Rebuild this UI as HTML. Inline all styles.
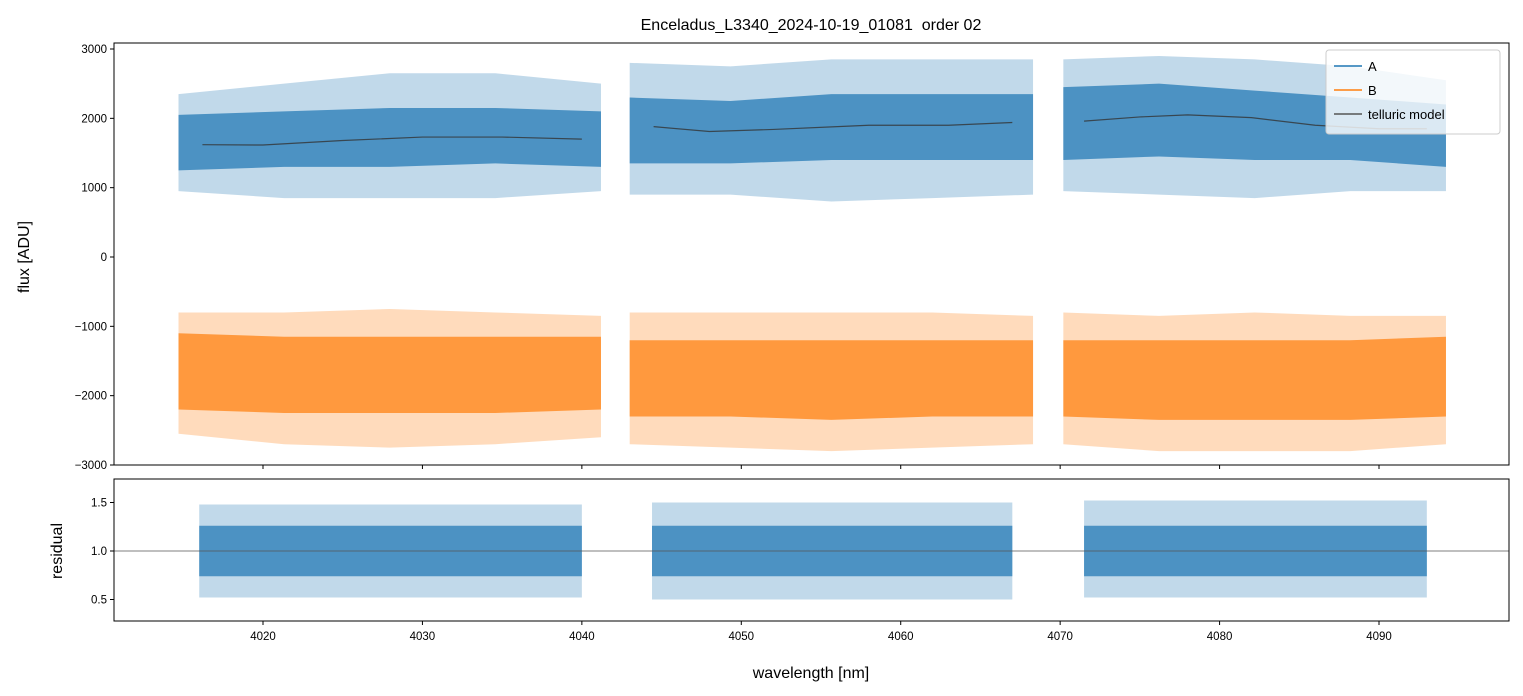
<!DOCTYPE html>
<html><head><meta charset="utf-8"><style>
html,body{margin:0;padding:0;background:#fff;}
svg{display:block;font-family:"Liberation Sans","DejaVu Sans",sans-serif;}
</style></head><body>
<svg id="chart" width="1523" height="696" viewBox="0 0 1523 696" xmlns="http://www.w3.org/2000/svg"></svg>
<script>
// ---- data ----
const segWaveStartA = [4014.7, 4043.0, 4070.2];
const segWaveEndA   = [4041.2, 4068.3, 4094.2];
const segWaveStartR = [4016.0, 4044.4, 4071.5];
const segWaveEndR   = [4040.0, 4067.0, 4093.0];
const envFrac = [0, 0.25, 0.5, 0.75, 1];
const aInnerLo = [[1250,1300,1300,1350,1300],[1350,1350,1400,1400,1400],[1400,1450,1400,1400,1300]];
const aInnerHi = [[2050,2100,2150,2150,2100],[2300,2250,2350,2350,2350],[2450,2500,2400,2300,2200]];
const aOuterLo = [[950,850,850,850,950],[900,900,800,850,900],[950,900,850,950,950]];
const aOuterHi = [[2350,2500,2650,2650,2500],[2800,2750,2850,2850,2850],[2850,2900,2850,2750,2550]];
const bInnerLo = [[-2200,-2250,-2250,-2250,-2200],[-2300,-2300,-2350,-2300,-2300],[-2300,-2350,-2350,-2350,-2300]];
const bInnerHi = [[-1100,-1150,-1150,-1150,-1150],[-1200,-1200,-1200,-1200,-1200],[-1200,-1200,-1200,-1200,-1150]];
const bOuterLo = [[-2550,-2700,-2750,-2700,-2600],[-2700,-2750,-2800,-2750,-2700],[-2700,-2800,-2800,-2800,-2700]];
const bOuterHi = [[-800,-800,-750,-800,-850],[-800,-800,-800,-800,-850],[-800,-850,-800,-850,-850]];
const rInnerLo = [0.74,0.74,0.74];
const rInnerHi = [1.26,1.26,1.26];
const rOuterLo = [0.52,0.5,0.52];
const rOuterHi = [1.48,1.5,1.52];
const tellW = [[4016.2,4020,4025,4030,4035,4040],[4044.5,4048,4052,4058,4063,4067],[4071.5,4075,4078,4082,4086,4090,4093]];
const tellF = [[1620,1615,1680,1730,1730,1700],[1880,1810,1840,1900,1900,1940],[1960,2020,2050,2010,1900,1850,1850]];
const xTicks = [4020,4030,4040,4050,4060,4070,4080,4090];
const yTicksTop = [-3000,-2000,-1000,0,1000,2000,3000];
const yTicksRes = [0.5,1.0,1.5];
// ---- axes ----
const L=114,R=1509,T1=43,B1=465,T2=479,B2=621;
const X=w=>263+(w-4020)*15.943;
const Y1=v=>257-v*0.06933;
const Y2=v=>551-(v-1)*97;
const svg=document.getElementById('chart');
const NS='http://www.w3.org/2000/svg';
function mk(t,a,p){const e=document.createElementNS(NS,t);for(const k in a)e.setAttribute(k,a[k]);(p||svg).appendChild(e);return e;}
const cA='#1f77b4',cB='#ff7f0e';
const cAs='#4c92c3',cBs='#ff993e';
function band(ws,we,lo,hi,Y,color,op,name,g){
  const pts=[];
  envFrac.forEach((f,i)=>pts.push(X(ws+(we-ws)*f)+','+Y(hi[i])));
  for(let i=envFrac.length-1;i>=0;i--)pts.push(X(ws+(we-ws)*envFrac[i])+','+Y(lo[i]));
  const p=mk('polygon',{points:pts.join(' '),fill:color,'fill-opacity':op},g);
  
  
}
const clip1=mk('clipPath',{id:'c1'});mk('rect',{x:L,y:T1,width:R-L,height:B1-T1},clip1);
const clip2=mk('clipPath',{id:'c2'});mk('rect',{x:L,y:T2,width:R-L,height:B2-T2},clip2);
const g1=mk('g',{'clip-path':'url(#c1)'});


for(let s=0;s<3;s++){
  band(segWaveStartA[s],segWaveEndA[s],aOuterLo[s],aOuterHi[s],Y1,cA,0.28,'series-a-outer',g1);
  band(segWaveStartA[s],segWaveEndA[s],aInnerLo[s],aInnerHi[s],Y1,cAs,1,'series-a',g1);
  band(segWaveStartA[s],segWaveEndA[s],bOuterLo[s],bOuterHi[s],Y1,cB,0.28,'series-b-outer',g1);
  band(segWaveStartA[s],segWaveEndA[s],bInnerLo[s],bInnerHi[s],Y1,cBs,1,'series-b',g1);
  const tl=mk('polyline',{points:tellW[s].map((w,i)=>X(w)+','+Y1(tellF[s][i])).join(' '),fill:'none',stroke:'#333','stroke-width':1.2,'stroke-opacity':0.8},g1);
  
  
}
const g2=mk('g',{'clip-path':'url(#c2)'});


for(let s=0;s<3;s++){
  const n=envFrac.length;
  band(segWaveStartR[s],segWaveEndR[s],Array(n).fill(rOuterLo[s]),Array(n).fill(rOuterHi[s]),Y2,cA,0.28,'residual-outer',g2);
  band(segWaveStartR[s],segWaveEndR[s],Array(n).fill(rInnerLo[s]),Array(n).fill(rInnerHi[s]),Y2,cAs,1,'residual-series',g2);
}
const ref=mk('line',{x1:L,x2:R,y1:Y2(1),y2:Y2(1),stroke:'#555','stroke-width':0.8});


const f1=mk('rect',{x:L,y:T1,width:R-L,height:B1-T1,fill:'none',stroke:'#000','stroke-width':1});

const f2=mk('rect',{x:L,y:T2,width:R-L,height:B2-T2,fill:'none',stroke:'#000','stroke-width':1});

xTicks.forEach(t=>{
  const x=X(t);
  mk('line',{x1:x,x2:x,y1:B1,y2:B1+4,stroke:'#000'});
  mk('line',{x1:x,x2:x,y1:B2,y2:B2+4,stroke:'#000'});
  const tx=mk('text',{x:x,y:B2+19,'font-size':11.5,'text-anchor':'middle'});tx.textContent=t;
  
});
yTicksTop.forEach(t=>{
  const y=Y1(t);
  mk('line',{x1:L-4,x2:L,y1:y,y2:y,stroke:'#000'});
  const tx=mk('text',{x:L-7,y:y+4,'font-size':11.5,'text-anchor':'end'});tx.textContent=(t<0?'\u2212'+(-t):t);
  
});
yTicksRes.forEach(t=>{
  const y=Y2(t);
  mk('line',{x1:L-4,x2:L,y1:y,y2:y,stroke:'#000'});
  const tx=mk('text',{x:L-7,y:y+4,'font-size':11.5,'text-anchor':'end'});tx.textContent=t.toFixed(1);
  
});
let t=mk('text',{x:811,y:30,'font-size':16,'text-anchor':'middle','xml:space':'preserve'});t.textContent='Enceladus_L3340_2024-10-19_01081\u00a0 order 02';

t=mk('text',{x:811,y:678,'font-size':16,'text-anchor':'middle'});t.textContent='wavelength [nm]';

t=mk('text',{x:0,y:0,'font-size':16,'text-anchor':'middle',transform:'translate(29,257) rotate(-90)'});t.textContent='flux [ADU]';

t=mk('text',{x:0,y:0,'font-size':16,'text-anchor':'middle',transform:'translate(62,551) rotate(-90)'});t.textContent='residual';

const lg=mk('g',{});

mk('rect',{x:1326,y:50,width:174,height:84,rx:3,fill:'#fff','fill-opacity':0.8,stroke:'#ccc'},lg);
[['A',cA],['B',cB],['telluric model','#555']].forEach((e,i)=>{
  const y=66+i*24;
  mk('line',{x1:1334,x2:1362,y1:y,y2:y,stroke:e[1],'stroke-width':1.5},lg);
  const tx=mk('text',{x:1368,y:y+5,'font-size':13},lg);tx.textContent=e[0];
  
});
</script>
</body></html>
